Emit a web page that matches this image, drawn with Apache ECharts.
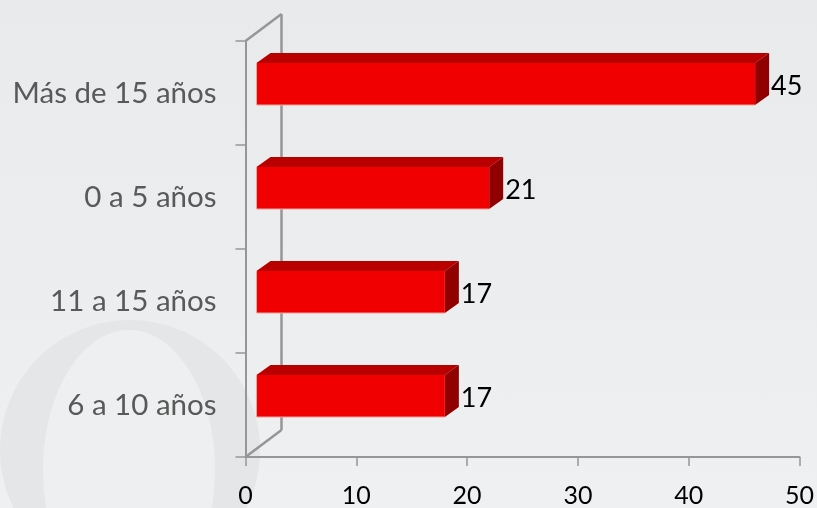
<!DOCTYPE html>
<html>
<head>
<meta charset="utf-8">
<style>
  html, body { margin: 0; padding: 0; }
  body { background: linear-gradient(#e9eaec, #eff0f1); }
  #chart { width: 817px; height: 508px; }
</style>
<script src="https://cdn.jsdelivr.net/npm/echarts@6/dist/echarts.min.js"></script>
</head>
<body>
<div id="chart"></div>
<script>
const categories = ['6 a 10 años', '11 a 15 años', '0 a 5 años', 'Más de 15 años']
const values = [17, 17, 21, 45]
const xTicks = [0, 10, 20, 30, 40, 50]

const axisGrey = '#969696'
const font = 'Lato'
// 3d look of the original: depth of the box and of the back wall
const depthX = 14
const depthY = 10
const barHeight = 42
const barShift = -9
const startShift = 11

const chart = echarts.init(document.getElementById('chart'))

function renderBar(params, api) {
  const value = api.value(0)
  const start = api.coord([0, api.value(1)])
  const end = api.coord([value, api.value(1)])
  const x0 = start[0] + startShift
  const x1 = end[0] + startShift
  const top = start[1] + barShift - barHeight / 2
  const bottom = top + barHeight
  return {
    type: 'group',
    children: [
      {
        type: 'polygon',
        shape: { points: [[x0, top], [x0 + depthX, top - depthY], [x1 + depthX, top - depthY], [x1, top]] },
        style: { fill: '#b80000' }
      },
      {
        type: 'polygon',
        shape: { points: [[x1, top], [x1 + depthX, top - depthY], [x1 + depthX, bottom - depthY], [x1, bottom]] },
        style: { fill: '#900000' }
      },
      {
        type: 'rect',
        shape: { x: x0, y: top, width: x1 - x0, height: barHeight },
        style: { fill: '#f00000' }
      },
      {
        type: 'polyline',
        shape: { points: [[x0, top], [x0, bottom], [x1, bottom]] },
        style: { fill: null, stroke: '#f3a5a0', lineWidth: 1 }
      },
      {
        type: 'text',
        style: {
          x: x1 + depthX + 2,
          y: top + 23,
          text: String(value),
          fill: '#000000',
          font: '27px ' + font,
          verticalAlign: 'middle'
        }
      }
    ]
  }
}

function renderWall(params) {
  const c = params.coordSys
  const wallX = 36
  const wallY = 27
  const line = (x1, y1, x2, y2) => ({
    type: 'line',
    shape: { x1, y1, x2, y2 },
    style: { stroke: axisGrey, lineWidth: 2.5 }
  })
  return {
    type: 'group',
    children: [
      line(c.x, c.y, c.x + wallX, c.y - wallY),
      line(c.x + wallX, c.y - wallY, c.x + wallX, c.y + c.height - wallY),
      line(c.x + wallX, c.y + c.height - wallY, c.x, c.y + c.height)
    ]
  }
}

chart.setOption({
  animation: false,
  backgroundColor: 'transparent',
  graphic: [
    {
      type: 'ellipse',
      z: -10,
      shape: { cx: 130, cy: 450, rx: 130, ry: 130 },
      style: { fill: '#e5e6e8' }
    },
    {
      type: 'ellipse',
      z: -9,
      shape: { cx: 129, cy: 470, rx: 86, ry: 140 },
      style: { fill: '#eeeff0' }
    }
  ],
  grid: { left: 245.5, right: 17, top: 41, bottom: 51 },
  xAxis: {
    type: 'value',
    min: 0,
    max: 50,
    interval: 10,
    splitLine: { show: false },
    axisLine: { show: true, lineStyle: { color: axisGrey, width: 2 } },
    axisTick: { show: true, length: 9, lineStyle: { color: axisGrey, width: 1.5 } },
    axisLabel: {
      margin: 26,
      color: '#000000',
      fontFamily: font,
      fontSize: 25,
      formatter: v => (xTicks.includes(v) ? String(v) : '')
    }
  },
  yAxis: {
    type: 'category',
    data: categories,
    axisLine: { show: true, onZero: false, lineStyle: { color: axisGrey, width: 2 } },
    axisTick: { show: true, length: 10, alignWithLabel: false, lineStyle: { color: axisGrey, width: 1.5 } },
    axisLabel: { margin: 29, color: '#595959', fontFamily: font, fontSize: 29.5, padding: [4, 0, 0, 0] }
  },
  series: [
    {
      type: 'custom',
      renderItem: renderWall,
      data: [[0, 0]],
      z: 1,
      silent: true
    },
    {
      type: 'custom',
      renderItem: renderBar,
      encode: { x: 0, y: 1 },
      data: values.map((v, i) => [v, i]),
      z: 2
    }
  ]
})
</script>
</body>
</html>
